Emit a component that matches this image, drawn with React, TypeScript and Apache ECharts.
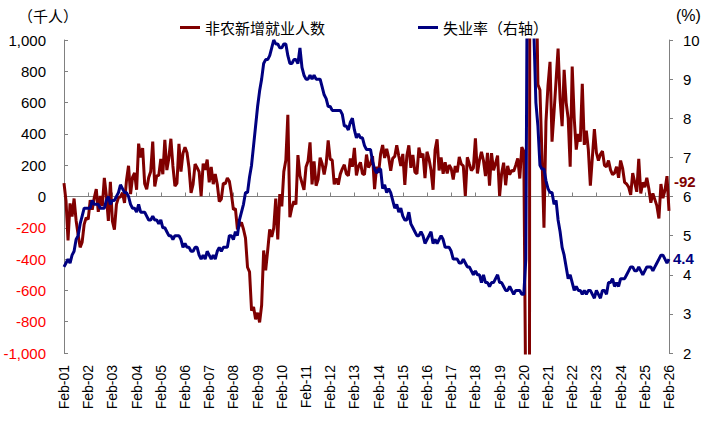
import React, { useEffect, useRef } from "react";
import * as echarts from "echarts";

// Monthly data, Feb 2001 – Feb 2026
const START_YEAR = 2001;
const START_MONTH = 1; // 0 = Jan, 1 = Feb
const MONTHS = ["Jan", "Feb", "Mar", "Apr", "May", "Jun", "Jul", "Aug", "Sep", "Oct", "Nov", "Dec"];

// Nonfarm payroll change (thousands)
const payrolls: number[] = [
  // 2001 (Feb-Dec)
  85, -29, -281, -44, -128, -13, -153, -244, -325, -292, -178,
  // 2002
  -135, -146, -23, -84, -8, 47, -98, 4, -61, 119, 6, -156,
  // 2003
  93, -158, -212, -50, -7, -2, 24, -41, 104, 196, 15, 124,
  // 2004
  150, 43, 338, 250, 310, 81, 46, 122, 160, 351, 64, 132,
  // 2005
  136, 240, 142, 362, 169, 246, 369, 195, 67, 84, 337, 159,
  // 2006
  277, 315, 280, 182, 23, 77, 207, 184, 157, 2, 210, 171,
  // 2007
  236, 90, 189, 79, 143, 78, -33, -16, 85, 82, 118, 97,
  // 2008
  17, -84, -78, -210, -185, -165, -209, -266, -452, -481, -729, -706,
  // 2009
  -784, -743, -804, -695, -345, -472, -345, -210, -258, -202, -13, -275,
  // 2010
  15, -63, 159, 232, 522, -133, -70, -30, -51, 265, 133, 87,
  // 2011
  42, 188, 225, 346, 77, 225, 69, 110, 248, 209, 141, 209,
  // 2012
  358, 237, 233, 78, 115, 76, 143, 177, 203, 146, 132, 244,
  // 2013
  190, 311, 135, 192, 218, 146, 140, 268, 185, 212, 258, 47,
  // 2014
  190, 151, 272, 329, 246, 304, 248, 164, 244, 256, 327, 259,
  // 2015
  195, 272, 74, 260, 327, 183, 265, 156, 145, 312, 249, 274,
  // 2016
  118, 286, 239, 168, 43, 297, 365, 166, 249, 145, 218, 147,
  // 2017
  201, 179, 108, 195, 154, 253, 207, 196, 4, 251, 208, 166,
  // 2018
  182, 372, 147, 231, 285, 230, 131, 279, 70, 277, 167, 212,
  // 2019
  261, 4, 147, 216, 72, 196, 140, 167, 162, 200, 244, 115,
  // 2020
  315, 289, -1373, -20477, 2833, 4846, 1726, 1583, 716, 680, 264, -200,
  // 2021
  480, 710, 860, 350, 540, 740, 945, 620, 450, 810, 600, 500,
  // 2022
  190, 830, 500, 300, 400, 350, 720, 330, 420, 300, 70, 250,
  // 2023
  430, 280, 230, 270, 290, 200, 190, 230, 170, 140, 150, 190,
  // 2024
  120, 230, 180, 90, 80, 60, 10, 150, 90, 30, 240, 20,
  // 2025
  90, 60, 120, 50, -40, 20, -20, -60, -140, 80, -10, 40,
  // 2026 (Jan-Feb)
  130, -92,
];

// Unemployment rate (%)
const unemployment: number[] = [
  // 2001 (Feb-Dec)
  4.2, 4.3, 4.4, 4.3, 4.5, 4.6, 4.9, 5.0, 5.3, 5.5, 5.7,
  // 2002
  5.7, 5.7, 5.7, 5.9, 5.8, 5.8, 5.8, 5.7, 5.7, 5.7, 5.9, 6.0,
  // 2003
  5.8, 5.9, 5.9, 6.0, 6.1, 6.3, 6.2, 6.1, 6.1, 6.0, 5.8, 5.7,
  // 2004
  5.7, 5.6, 5.8, 5.6, 5.6, 5.6, 5.5, 5.4, 5.4, 5.5, 5.4, 5.4,
  // 2005
  5.3, 5.4, 5.2, 5.2, 5.1, 5.0, 5.0, 4.9, 5.0, 5.0, 5.0, 4.9,
  // 2006
  4.7, 4.8, 4.7, 4.7, 4.6, 4.6, 4.7, 4.7, 4.5, 4.4, 4.5, 4.4,
  // 2007
  4.6, 4.5, 4.4, 4.5, 4.4, 4.6, 4.7, 4.6, 4.7, 4.7, 4.7, 5.0,
  // 2008
  5.0, 4.9, 5.1, 5.0, 5.4, 5.6, 5.8, 6.1, 6.1, 6.5, 6.8, 7.3,
  // 2009
  7.8, 8.3, 8.7, 9.0, 9.4, 9.5, 9.5, 9.6, 9.8, 10.0, 9.9, 9.9,
  // 2010
  9.8, 9.8, 9.9, 9.9, 9.6, 9.4, 9.4, 9.5, 9.5, 9.4, 9.8, 9.3,
  // 2011
  9.1, 9.0, 9.0, 9.1, 9.0, 9.1, 9.0, 9.0, 9.0, 8.8, 8.6, 8.5,
  // 2012
  8.3, 8.3, 8.2, 8.2, 8.2, 8.2, 8.2, 8.1, 7.8, 7.8, 7.7, 7.9,
  // 2013
  8.0, 7.7, 7.5, 7.6, 7.5, 7.5, 7.3, 7.2, 7.2, 7.2, 6.9, 6.7,
  // 2014
  6.6, 6.7, 6.7, 6.2, 6.3, 6.1, 6.2, 6.1, 5.9, 5.7, 5.8, 5.6,
  // 2015
  5.7, 5.5, 5.4, 5.4, 5.6, 5.3, 5.2, 5.1, 5.0, 5.0, 5.1, 5.0,
  // 2016
  4.8, 4.9, 5.0, 5.1, 4.8, 4.9, 4.8, 4.9, 5.0, 4.9, 4.7, 4.7,
  // 2017
  4.7, 4.6, 4.4, 4.4, 4.4, 4.3, 4.3, 4.4, 4.3, 4.2, 4.2, 4.1,
  // 2018
  4.0, 4.1, 4.0, 4.0, 3.8, 4.0, 3.8, 3.8, 3.7, 3.8, 3.8, 3.9,
  // 2019
  4.0, 3.8, 3.8, 3.7, 3.6, 3.6, 3.7, 3.6, 3.5, 3.6, 3.6, 3.6,
  // 2020
  3.5, 3.5, 4.4, 14.8, 13.2, 11.0, 10.2, 8.4, 7.8, 6.8, 6.7, 6.7,
  // 2021
  6.4, 6.2, 6.1, 6.1, 5.8, 5.9, 5.4, 5.1, 4.7, 4.5, 4.2, 3.9,
  // 2022
  4.0, 3.8, 3.6, 3.7, 3.6, 3.6, 3.5, 3.6, 3.5, 3.6, 3.6, 3.5,
  // 2023
  3.4, 3.6, 3.5, 3.4, 3.6, 3.6, 3.5, 3.8, 3.8, 3.9, 3.7, 3.8,
  // 2024
  3.7, 3.9, 3.9, 3.9, 4.0, 4.1, 4.2, 4.2, 4.1, 4.1, 4.2, 4.1,
  // 2025
  4.0, 4.1, 4.2, 4.2, 4.2, 4.1, 4.2, 4.3, 4.4, 4.5, 4.5, 4.4,
  // 2026 (Jan-Feb)
  4.3, 4.4,
];

const categories: string[] = payrolls.map((_, k) => {
  const total = START_MONTH + k;
  const m = total % 12;
  const y = START_YEAR + Math.floor(total / 12);
  return `${MONTHS[m]}-${String(y % 100).padStart(2, "0")}`;
});

const SERIES_NAMES = ["非农新增就业人数", "失业率（右轴）"];
const UNIT_LEFT = "（千人）";
const UNIT_RIGHT = "(%)";

const RED = "#800000";
const BLUE = "#000080";
const AXIS_GRAY = "#808080";
const FONT = "'Liberation Sans', Arial, 'Noto Sans CJK SC', sans-serif";
const CJK_FONT = "'Noto Sans CJK SC', 'Liberation Sans', sans-serif";

export default function App() {
  const ref = useRef<HTMLDivElement>(null);

  useEffect(() => {
    if (!ref.current) return;
    const chart = echarts.init(ref.current, undefined, { renderer: "svg" });
    const legendBase = {
      top: 20,
      padding: 0,
      icon: "rect",
      itemWidth: 20,
      itemHeight: 3,
      textStyle: { fontSize: 15, color: "#000", fontFamily: CJK_FONT },
    };
    const option: any = {
      animation: false,
      backgroundColor: "#ffffff",
      grid: { left: 64, right: 37, top: 40, bottom: 81, containLabel: false },
      legend: [
        { ...legendBase, data: [SERIES_NAMES[0]], left: 180 },
        { ...legendBase, data: [SERIES_NAMES[1]], left: 418 },
      ],
      xAxis: [
        {
          type: "category",
          data: categories,
          boundaryGap: false,
          position: "bottom",
          axisLine: { show: true, onZero: true, onZeroAxisIndex: 0, lineStyle: { color: AXIS_GRAY, width: 1 } },
          axisTick: { show: true, inside: true, interval: 11, length: 4, lineStyle: { color: AXIS_GRAY } },
          axisLabel: { show: false },
          splitLine: { show: false },
        },
        {
          type: "category",
          data: categories,
          boundaryGap: false,
          position: "bottom",
          axisLine: { show: false, onZero: false },
          axisTick: { show: false },
          axisLabel: {
            show: true,
            interval: 11,
            rotate: 90,
            margin: 12,
            fontSize: 14,
            color: "#000",
            fontFamily: FONT,
          },
          splitLine: { show: false },
        },
      ],
      yAxis: [
        {
          type: "value",
          min: -1000,
          max: 1000,
          interval: 200,
          position: "left",
          axisLine: { show: true, lineStyle: { color: AXIS_GRAY, width: 1 } },
          axisTick: { show: true, inside: true, length: 4, lineStyle: { color: AXIS_GRAY } },
          splitLine: { show: false },
          axisLabel: {
            margin: 18,
            fontSize: 15,
            fontFamily: FONT,
            formatter: (v: number) => v.toLocaleString("en-US"),
            color: (v: any) => (Number(v) < 0 ? "#FF0000" : "#000000"),
          },
        },
        {
          type: "value",
          min: 2,
          max: 10,
          interval: 1,
          position: "right",
          axisLine: { show: true, lineStyle: { color: AXIS_GRAY, width: 1 } },
          axisTick: { show: true, inside: false, length: 4, lineStyle: { color: AXIS_GRAY } },
          splitLine: { show: false },
          axisLabel: { margin: 14, fontSize: 15, color: "#000", fontFamily: FONT },
        },
      ],
      graphic: [
        {
          type: "text",
          x: 18,
          y: 15,
          style: {
            text: UNIT_LEFT,
            fontSize: 15,
            fill: "#000",
            fontFamily: CJK_FONT,
            align: "left",
            verticalAlign: "middle",
          },
        },
        {
          type: "text",
          x: 676,
          y: 15,
          style: {
            text: UNIT_RIGHT,
            fontSize: 16,
            fill: "#000",
            fontFamily: FONT,
            align: "left",
            verticalAlign: "middle",
          },
        },
      ],
      series: [
        {
          name: SERIES_NAMES[0],
          type: "line",
          data: payrolls,
          xAxisIndex: 0,
          yAxisIndex: 0,
          showSymbol: false,
          symbol: "none",
          clip: true,
          lineStyle: { color: RED, width: 3 },
          itemStyle: { color: RED },
          endLabel: {
            show: true,
            formatter: (p: any) => String(p.value),
            offset: [0, -29],
            distance: 5,
            color: RED,
            fontSize: 15,
            fontWeight: "bold",
            fontFamily: FONT,
          },
          z: 2,
        },
        {
          name: SERIES_NAMES[1],
          type: "line",
          data: unemployment,
          xAxisIndex: 0,
          yAxisIndex: 1,
          showSymbol: false,
          symbol: "none",
          clip: true,
          lineStyle: { color: BLUE, width: 3 },
          itemStyle: { color: BLUE },
          endLabel: {
            show: true,
            formatter: (p: any) => Number(p.value).toFixed(1),
            offset: [0, -1],
            distance: 4,
            color: BLUE,
            fontSize: 15,
            fontWeight: "bold",
            fontFamily: FONT,
          },
          z: 3,
        },
      ],
    };
    chart.setOption(option);
    return () => chart.dispose();
  }, []);

  return (
    <div
      ref={ref}
      style={{ position: "fixed", left: 0, top: 0, width: 706, height: 434, background: "#fff" }}
    />
  );
}
